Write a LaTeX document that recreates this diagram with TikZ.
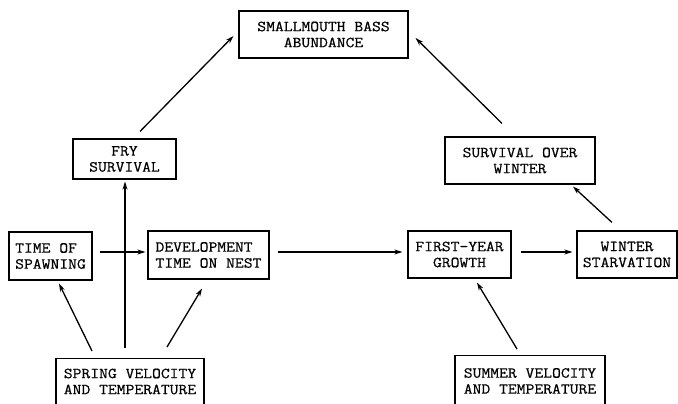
\documentclass[tikz,border=0pt]{standalone}
\usepackage{fontspec}
\setmonofont{Latin Modern Mono}[FakeStretch=1.12, FakeBold=0.6]
\usetikzlibrary{arrows.meta}
\begin{document}
\begin{tikzpicture}[x=1pt,y=-1pt,
  box/.style={draw, line width=1.1pt, rectangle, inner sep=0pt, font=\ttfamily\fontsize{15.3}{16}\selectfont},
  txt/.style={inner sep=0pt, font=\ttfamily\fontsize{15.3}{16}\selectfont},
  conn/.style={line width=1.3pt, -{Stealth[length=8pt,width=5pt]}}]
\useasboundingbox (0,0) rectangle (678,404);
% boxes
\node[box, minimum width=169pt, minimum height=47pt, align=center] (smb) at (323.5,34.5) {SMALLMOUTH BASS\\ABUNDANCE};
\node[box, minimum width=103pt, minimum height=40pt, align=center] (fry) at (124.5,159) {FRY\\SURVIVAL};
\node[box, minimum width=150pt, minimum height=47pt, align=center] (sow) at (520,160.5) {SURVIVAL OVER\\WINTER};
\node[box, minimum width=83pt, minimum height=48pt, align=left] (tos) at (50.5,256) {TIME OF \\SPAWNING};
\node[box, minimum width=121pt, minimum height=48pt, align=left] (dev) at (208.5,255) {DEVELOPMENT\\TIME ON NEST};
\node[box, minimum width=103pt, minimum height=47pt, align=center] (fyg) at (459.5,254.5) {FIRST-YEAR\\GROWTH};
\node[box, minimum width=100pt, minimum height=47pt, align=center] (ws) at (627,254.5) {WINTER\\STARVATION};
\node[box, minimum width=148pt, minimum height=54pt, anchor=north] (spring) at (130,358) {};
\node[txt, align=left] (springt) at (130,381.5) {SPRING VELOCITY\\AND TEMPERATURE};
\node[box, minimum width=150pt, minimum height=56pt, anchor=north] (summer) at (530,355) {};
\node[txt, align=left] (summert) at (530,381) {SUMMER VELOCITY\\AND TEMPERATURE};
% connectors
\draw[conn] ([xshift=15.5pt,yshift=7pt]fry.north) -- ([xshift=-5pt,yshift=-1.5pt]smb.west);
\draw[conn] ([xshift=-18pt,yshift=13pt]sow.north) -- ([xshift=7pt,yshift=-3.5pt]smb.east);
\draw[conn] ([xshift=-5pt,yshift=10pt]spring.north) -- ([xshift=0.5pt,yshift=-2pt]fry.south);
\draw[white, line width=3pt] ([xshift=-5pt,yshift=-112pt]spring.north) -- ([xshift=-5pt,yshift=-100pt]spring.north);
\draw[conn] ([xshift=7pt,yshift=4pt]tos.east) -- ([xshift=-2pt,yshift=3pt]dev.west);
\draw[conn] ([xshift=8pt,yshift=3pt]dev.east) -- ([xshift=-5pt,yshift=2.5pt]fyg.west);
\draw[conn] ([xshift=9pt,yshift=2.5pt]fyg.east) -- ([xshift=-4pt,yshift=2.5pt]ws.west);
\draw[conn] ([xshift=-15pt,yshift=8pt]ws.north) -- ([xshift=53pt,yshift=-2pt]sow.south);
\draw[conn] ([xshift=-38pt,yshift=7pt]spring.north) -- ([xshift=8.5pt,yshift=-3pt]tos.south);
\draw[conn] ([xshift=37pt,yshift=11pt]spring.north) -- ([xshift=-6.5pt,yshift=-9pt]dev.south);
\draw[conn] ([xshift=-13pt,yshift=6pt]summer.north) -- ([xshift=17.5pt,yshift=-4pt]fyg.south);
\end{tikzpicture}
\end{document}
